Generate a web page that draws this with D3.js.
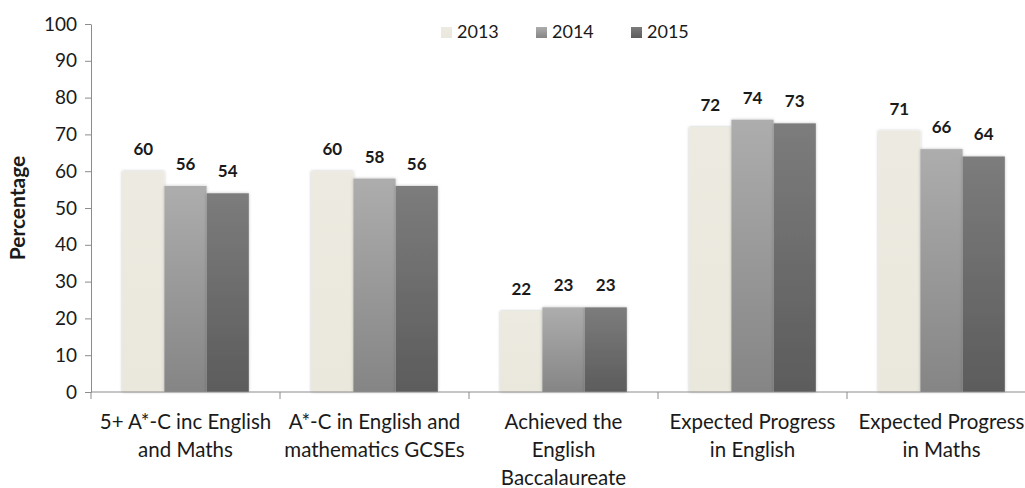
<!DOCTYPE html>
<html>
<head>
<meta charset="utf-8">
<script src="https://cdn.jsdelivr.net/npm/d3@7"></script>
<style>
  html, body { margin: 0; padding: 0; background: #fff; }
  svg { display: block; }
  text { font-family: Lato, "Open Sans", sans-serif; fill: #1a1a1a; }
</style>
</head>
<body>
<svg id="chart" width="1025" height="488"></svg>
<script>
const categories = [
  ["5+ A*-C inc English", "and Maths"],
  ["A*-C in English and", "mathematics GCSEs"],
  ["Achieved the", "English", "Baccalaureate"],
  ["Expected Progress", "in English"],
  ["Expected Progress", "in Maths"]
];
const years = ["2013", "2014", "2015"];
const values2013 = [60, 60, 22, 72, 71];
const values2014 = [56, 58, 23, 74, 66];
const values2015 = [54, 56, 23, 73, 64];
const yTicks = [0, 10, 20, 30, 40, 50, 60, 70, 80, 90, 100];

(function () {
const seriesValues = [values2013, values2014, values2015];
const svg = d3.select("#chart");

const defs = svg.append("defs");
const grads = [
  ["g2013", "#EDEBE1", "#EAE8DD"],
  ["g2014", "#ADADAD", "#858585"],
  ["g2015", "#7C7C7C", "#5C5C5C"]
];
grads.forEach(([id, c1, c2]) => {
  const g = defs.append("linearGradient").attr("id", id)
    .attr("x1", 0).attr("y1", 0).attr("x2", 0).attr("y2", 1);
  g.append("stop").attr("offset", "0%").attr("stop-color", c1);
  g.append("stop").attr("offset", "100%").attr("stop-color", c2);
});
const f = defs.append("filter").attr("id", "shadow")
  .attr("x", "-20%").attr("y", "-5%").attr("width", "140%").attr("height", "110%");
f.append("feDropShadow").attr("dx", 0).attr("dy", 0).attr("stdDeviation", 1.5)
  .attr("flood-color", "#000").attr("flood-opacity", 0.25);

const mLeft = 91, mRight = 1036, mTop = 24, mBottom = 392;
const catKeys = categories.map((d, i) => i);
const x0 = d3.scaleBand().domain(catKeys).range([mLeft, mRight]).padding(0);
const bw = x0.bandwidth();
const x1 = d3.scaleBand().domain(years).range([bw * 0.165, bw * 0.835]).padding(0);
const y = d3.scaleLinear().domain([0, 100]).range([mBottom, mTop]);

// Y axis
const yAxis = svg.append("g").attr("transform", `translate(${mLeft},0)`)
  .call(d3.axisLeft(y).tickValues(yTicks).tickSize(6).tickPadding(8).tickSizeOuter(0));
yAxis.select(".domain").attr("stroke", "#8c8c8c");
yAxis.selectAll(".tick line").attr("stroke", "#8c8c8c");
yAxis.selectAll(".tick text").style("font-size", "19px").style("font-family", "Lato, sans-serif").attr("fill", "#1a1a1a");

// Bars
const groups = svg.append("g").selectAll("g").data(catKeys).join("g")
  .attr("transform", d => `translate(${x0(d)},0)`);
years.forEach((yr, si) => {
  groups.append("rect")
    .attr("x", x1(yr))
    .attr("y", d => y(seriesValues[si][d]))
    .attr("width", x1.bandwidth())
    .attr("height", d => y(0) - y(seriesValues[si][d]))
    .attr("fill", `url(#g${yr})`)
    .attr("filter", "url(#shadow)");
  groups.append("text")
    .attr("x", x1(yr) + x1.bandwidth() / 2)
    .attr("y", d => y(seriesValues[si][d]) - 16)
    .attr("text-anchor", "middle")
    .style("font-size", "17px").style("font-weight", "bold")
    .text(d => seriesValues[si][d]);
});

// X axis
const xg = svg.append("g").attr("transform", `translate(0,${mBottom})`);
xg.append("line").attr("x1", mLeft).attr("x2", mRight).attr("stroke", "#8c8c8c");
const bounds = catKeys.map(k => x0(k)).concat([mRight]);
xg.selectAll("line.tk").data(bounds).join("line").attr("class", "tk")
  .attr("x1", d => d).attr("x2", d => d).attr("y1", 0).attr("y2", 7).attr("stroke", "#8c8c8c");
xg.selectAll("text.cat").data(catKeys).join("text").attr("class", "cat")
  .attr("x", d => x0(d) + bw / 2)
  .attr("text-anchor", "middle")
  .style("font-size", "20.5px")
  .each(function(d) {
    const t = d3.select(this);
    categories[d].forEach((line, li) => {
      t.append("tspan").attr("x", x0(d) + bw / 2).attr("y", 37 + li * 28).text(line);
    });
  });

// Y title
svg.append("text")
  .attr("transform", `translate(25,${(mTop + mBottom) / 2}) rotate(-90)`)
  .attr("text-anchor", "middle")
  .style("font-size", "21px").style("font-weight", "bold")
  .text("Percentage");

// Legend
const legendX = [441, 536, 631];
const lg = svg.append("g").selectAll("g").data(years).join("g")
  .attr("transform", (d, i) => `translate(${legendX[i]},27)`);
lg.append("rect").attr("width", 11).attr("height", 11)
  .attr("fill", d => `url(#g${d})`);
lg.append("text").attr("x", 16).attr("y", 11)
  .style("font-size", "18px").text(d => d);
})();
</script>
</body>
</html>
